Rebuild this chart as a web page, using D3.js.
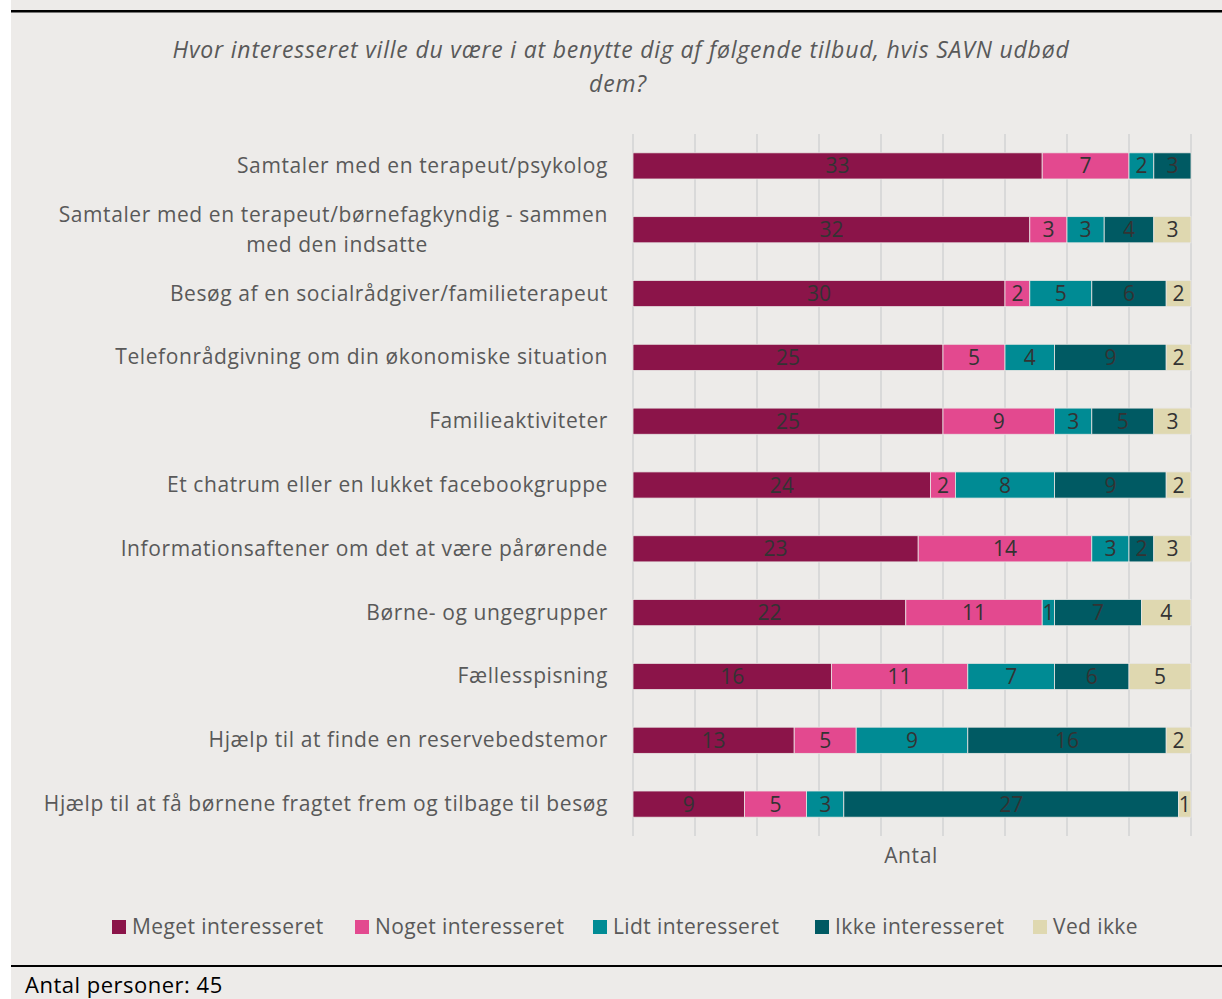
<!DOCTYPE html>
<html><head><meta charset="utf-8">
<script src="https://cdn.jsdelivr.net/npm/d3@7"></script>
<style>
html,body{margin:0;padding:0;background:#fff;}
svg{display:block;font-family:"Open Sans",sans-serif;}
</style></head><body>
<svg id="c" width="1222" height="999"></svg>
<script>
const categories = [
  "Samtaler med en terapeut/psykolog",
  "Samtaler med en terapeut/børnefagkyndig - sammen|med den indsatte",
  "Besøg af en socialrådgiver/familieterapeut",
  "Telefonrådgivning om din økonomiske situation",
  "Familieaktiviteter",
  "Et chatrum eller en lukket facebookgruppe",
  "Informationsaftener om det at være pårørende",
  "Børne- og ungegrupper",
  "Fællesspisning",
  "Hjælp til at finde en reservebedstemor",
  "Hjælp til at få børnene fragtet frem og tilbage til besøg"
];
const seriesNames = ["Meget interesseret","Noget interesseret","Lidt interesseret","Ikke interesseret","Ved ikke"];
const meget = [33,32,30,25,25,24,23,22,16,13,9];
const noget = [7,3,2,5,9,2,14,11,11,5,5];
const lidt  = [2,3,5,4,3,8,3,1,7,9,3];
const ikke  = [3,4,6,9,5,9,2,7,6,16,27];
const vedIkke = [0,3,2,2,3,2,3,4,5,2,1];
const tickValues = [0,5,10,15,20,25,30,35,40,45];
const colors = ["#8B1449","#E3498F","#008B94","#005A63","#DFD8B0"];

const svg = d3.select("#c");
svg.append("rect").attr("x",11).attr("y",0).attr("width",1211).attr("height",999).attr("fill","#EDEBE9");
svg.append("rect").attr("x",11).attr("y",10).attr("width",1211).attr("height",2.5).attr("fill","#000");
svg.append("rect").attr("x",11).attr("y",965).attr("width",1211).attr("height",2).attr("fill","#000");

// title
const title = svg.append("text").attr("text-anchor","middle").attr("fill","#595959")
  .attr("font-style","italic").attr("font-size",23).attr("letter-spacing",0.8);
title.append("tspan").attr("x",621).attr("y",58).text("Hvor interesseret ville du være i at benytte dig af følgende tilbud, hvis SAVN udbød");
title.append("tspan").attr("x",618).attr("y",92).text("dem?");

const x = d3.scaleLinear().domain([0,45]).range([633,1191]);
const y = d3.scaleBand().domain(d3.range(categories.length)).range([134,836]).paddingInner(0.59).paddingOuter(0.295);

// grid
svg.append("g").selectAll("line").data(tickValues).join("line")
  .attr("x1",d=>x(d)).attr("x2",d=>x(d)).attr("y1",134).attr("y2",836)
  .attr("stroke","#D9D9D9").attr("stroke-width",2);

const series = [meget,noget,lidt,ikke,vedIkke];
const rows = categories.map((c,i)=>{const o={i}; seriesNames.forEach((s,k)=>o[s]=series[k][i]); return o;});
const stack = d3.stack().keys(seriesNames)(rows);

const g = svg.append("g");
stack.forEach((layer,k)=>{
  layer.forEach((d,i)=>{
    const v = d[1]-d[0];
    if(v<=0) return;
    g.append("rect").attr("x",x(d[0])).attr("y",y(i)).attr("width",x(d[1])-x(d[0])).attr("height",y.bandwidth())
      .attr("fill",colors[k]).attr("stroke","#E8E6E4").attr("stroke-width",0.8);
    g.append("text").attr("x",(x(d[0])+x(d[1]))/2).attr("y",y(i)+y.bandwidth()/2+7.5)
      .attr("text-anchor","middle").attr("font-size",21).attr("fill","#333").text(v);
  });
});

// category labels
categories.forEach((c,i)=>{
  const parts = c.split("|");
  const cy = y(i)+y.bandwidth()/2;
  const t = svg.append("text").attr("fill","#595959").attr("font-size",21).attr("letter-spacing",0.6);
  if(parts.length>1){
    t.append("tspan").attr("x",608).attr("y",cy-15+7).attr("text-anchor","end").text(parts[0]);
    t.append("tspan").attr("x",337).attr("y",cy+15+7).attr("text-anchor","middle").text(parts[1]);
  } else {
    t.attr("x",608).attr("y",cy+7).attr("text-anchor","end").text(c);
  }
});

svg.append("text").attr("x",911).attr("y",863).attr("text-anchor","middle").attr("fill","#595959")
  .attr("font-size",21).attr("letter-spacing",0.6).text("Antal");

// legend
const legX = [112,355,593,815,1033];
seriesNames.forEach((s,k)=>{
  svg.append("rect").attr("x",legX[k]).attr("y",920).attr("width",14).attr("height",14).attr("fill",colors[k]);
  svg.append("text").attr("x",legX[k]+20).attr("y",934).attr("fill","#595959").attr("font-size",21)
    .attr("letter-spacing",0.4).text(s);
});

svg.append("text").attr("x",25).attr("y",993).attr("fill","#000").attr("font-size",22).attr("letter-spacing",0.5).text("Antal personer: 45");
</script>
</body></html>
